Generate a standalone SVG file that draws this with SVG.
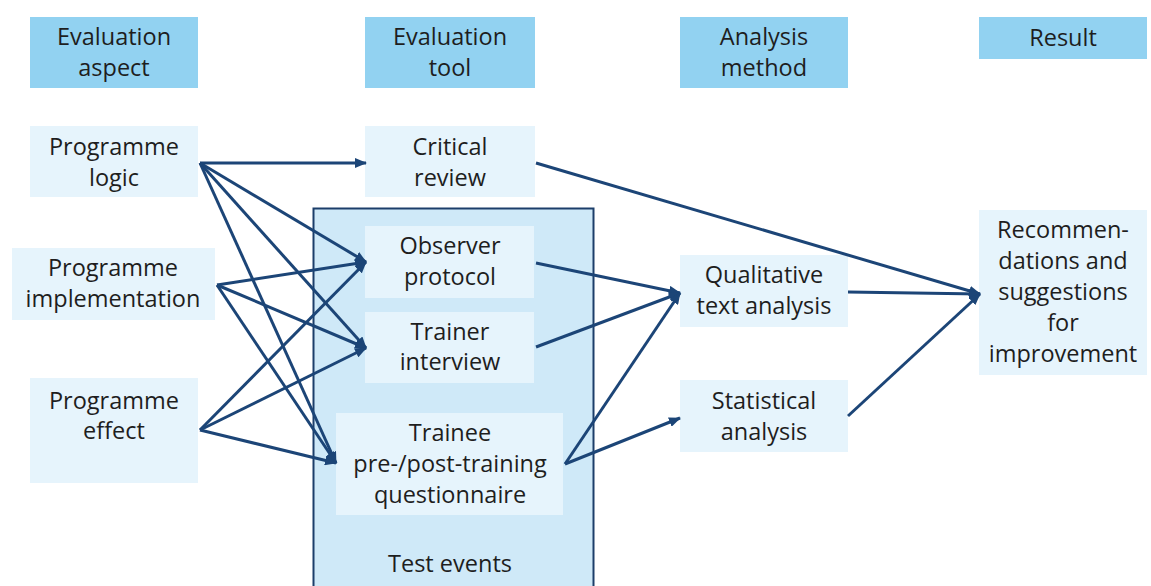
<svg xmlns="http://www.w3.org/2000/svg" width="1151" height="586" viewBox="0 0 1151 586">
<style>
.hd{fill:#92d2f1}
.nd{fill:#e6f4fc}
.t{font-family:"Open Sans","Noto Sans","DejaVu Sans",sans-serif;font-size:23.5px;fill:#1e1e1e;text-anchor:middle}
.c{stroke:#1c4577;stroke-width:3;fill:none;marker-end:url(#ah)}
</style>
<defs>
<marker id="ah" markerUnits="userSpaceOnUse" markerWidth="12" markerHeight="10" viewBox="0 0 12 10" refX="11" refY="5" orient="auto">
<path d="M0,0 L12,5 L0,10 Z" fill="#1c4577"/>
</marker>
</defs>
<rect width="1151" height="586" fill="#ffffff"/>
<g id="test-events">
<rect x="313.5" y="208.5" width="280" height="390" fill="#cfe9f8" stroke="#1c3e6a" stroke-width="2"/>
<text class="t" x="450" y="572">Test events</text>
</g>
<g id="h-aspect"><rect class="hd" x="30" y="17" width="168" height="71"/><text class="t" x="114" y="45">Evaluation</text><text class="t" x="114" y="76">aspect</text></g>
<g id="h-tool"><rect class="hd" x="365" y="17" width="170" height="71"/><text class="t" x="450" y="45">Evaluation</text><text class="t" x="450" y="76">tool</text></g>
<g id="h-method"><rect class="hd" x="680" y="17" width="168" height="71"/><text class="t" x="764" y="45">Analysis</text><text class="t" x="764" y="76">method</text></g>
<g id="h-result"><rect class="hd" x="979" y="17" width="168" height="42"/><text class="t" x="1063" y="46">Result</text></g>
<g id="n-logic"><rect class="nd" x="30" y="126" width="168" height="71"/><text class="t" x="114" y="155">Programme</text><text class="t" x="114" y="186">logic</text></g>
<g id="n-impl"><rect class="nd" x="12" y="248" width="203" height="72"/><text class="t" x="113" y="276">Programme</text><text class="t" x="113" y="307">implementation</text></g>
<g id="n-effect"><rect class="nd" x="30" y="378" width="168" height="105"/><text class="t" x="114" y="409">Programme</text><text class="t" x="114" y="439">effect</text></g>
<g id="n-critical"><rect class="nd" x="365" y="126" width="170" height="71"/><text class="t" x="450" y="155">Critical</text><text class="t" x="450" y="186">review</text></g>
<g id="n-observer"><rect class="nd" x="365" y="226" width="169" height="72"/><text class="t" x="450" y="254">Observer</text><text class="t" x="450" y="285">protocol</text></g>
<g id="n-trainer"><rect class="nd" x="365" y="312" width="169" height="71"/><text class="t" x="450" y="340">Trainer</text><text class="t" x="450" y="370">interview</text></g>
<g id="n-trainee"><rect class="nd" x="336" y="413" width="227" height="102"/><text class="t" x="450" y="441">Trainee</text><text class="t" x="450" y="472">pre-/post-training</text><text class="t" x="450" y="503">questionnaire</text></g>
<g id="n-qual"><rect class="nd" x="680" y="255" width="168" height="72"/><text class="t" x="764" y="283">Qualitative</text><text class="t" x="764" y="314">text analysis</text></g>
<g id="n-stat"><rect class="nd" x="680" y="380" width="168" height="72"/><text class="t" x="764" y="409">Statistical</text><text class="t" x="764" y="440">analysis</text></g>
<g id="n-rec"><rect class="nd" x="979" y="210" width="168" height="165"/><text class="t" x="1063" y="238">Recommen-</text><text class="t" x="1063" y="269">dations and</text><text class="t" x="1063" y="300">suggestions</text><text class="t" x="1063" y="331">for</text><text class="t" x="1063" y="362">improvement</text></g>
<g id="connectors">
<line class="c" x1="200" y1="163" x2="366" y2="163"/>
<line class="c" x1="200" y1="163" x2="366" y2="262"/>
<line class="c" x1="200" y1="163" x2="366" y2="348"/>
<line class="c" x1="200" y1="163" x2="336" y2="463"/>
<line class="c" x1="217" y1="285" x2="366" y2="262"/>
<line class="c" x1="217" y1="285" x2="366" y2="348"/>
<line class="c" x1="217" y1="285" x2="336" y2="463"/>
<line class="c" x1="200" y1="430" x2="366" y2="262"/>
<line class="c" x1="200" y1="430" x2="366" y2="348"/>
<line class="c" x1="200" y1="430" x2="336" y2="463"/>
<line class="c" x1="536" y1="263" x2="680" y2="293"/>
<line class="c" x1="536" y1="347" x2="680" y2="293"/>
<line class="c" x1="565" y1="464" x2="680" y2="293"/>
<line class="c" x1="565" y1="464" x2="680" y2="418"/>
<line class="c" x1="536" y1="163" x2="980" y2="294"/>
<line class="c" x1="848" y1="292" x2="980" y2="294"/>
<line class="c" x1="848" y1="416" x2="980" y2="294"/>
</g>
</svg>
